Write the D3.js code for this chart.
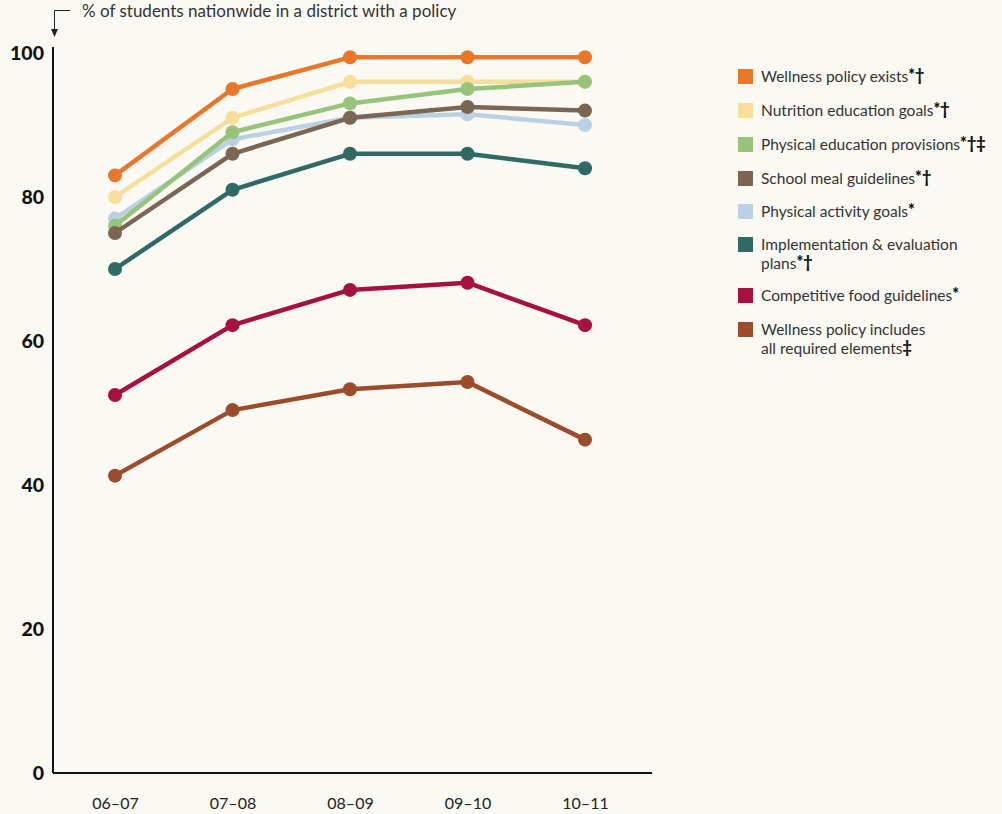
<!DOCTYPE html>
<html>
<head>
<meta charset="utf-8">
<script src="https://cdn.jsdelivr.net/npm/d3@7"></script>
<style>
  html, body { margin: 0; padding: 0; background: #FBF9F4; }
  svg { display: block; }
</style>
</head>
<body>
<svg id="chart" width="1002" height="814"></svg>
<script>
// School years on the x axis
const years = ["06\u201307", "07\u201308", "08\u201309", "09\u201310", "10\u201311"];
const yTicks = [0, 20, 40, 60, 80, 100];

// Percent of students in a district with each policy element
const wellnessExists      = [83, 95, 99.4, 99.4, 99.4];
const nutritionEducation  = [80, 91, 96, 96, 96];
const physicalEducation   = [76, 89, 93, 95, 96];
const schoolMeal          = [75, 86, 91, 92.5, 92];
const physicalActivity    = [77, 88, 91, 91.5, 90];
const implementation      = [70, 81, 86, 86, 84];
const competitiveFood     = [52.5, 62.2, 67.1, 68.1, 62.2];
const allRequired         = [41.3, 50.4, 53.3, 54.3, 46.3];

const series = [
  { name: "Wellness policy exists", mark: "*\u2020", values: wellnessExists, color: "#E8772A" },
  { name: "Nutrition education goals", mark: "*\u2020", values: nutritionEducation, color: "#F7DE9B" },
  { name: "Physical education provisions", mark: "*\u2020\u2021", values: physicalEducation, color: "#97C47A" },
  { name: "School meal guidelines", mark: "*\u2020", values: schoolMeal, color: "#7A6653" },
  { name: "Physical activity goals", mark: "*", values: physicalActivity, color: "#BAD0E3" },
  { name: ["Implementation & evaluation", "plans"], mark: "*\u2020", values: implementation, color: "#2F6A65" },
  { name: "Competitive food guidelines", mark: "*", values: competitiveFood, color: "#A61240" },
  { name: ["Wellness policy includes", "all required elements"], mark: "\u2021", values: allRequired, color: "#9B4C2B" }
];

// Stacking order of the lines, bottom first
const drawOrder = [7, 6, 5, 4, 1, 2, 3, 0];

const svg = d3.select("#chart");
const plotLeft = 53, plotRight = 652, plotTop = 53, plotBottom = 773;

const x = d3.scalePoint().domain(years).range([115, 585]);
const y = d3.scaleLinear().domain([0, 100]).range([plotBottom, plotTop]);

const font = "Lato, 'Open Sans', sans-serif";

// Axes
svg.append("line").attr("x1", plotLeft).attr("x2", plotLeft).attr("y1", 47).attr("y2", plotBottom)
  .attr("stroke", "#111").attr("stroke-width", 2);
svg.append("line").attr("x1", plotLeft).attr("x2", plotRight).attr("y1", plotBottom).attr("y2", plotBottom)
  .attr("stroke", "#111").attr("stroke-width", 2);

const yAxis = d3.axisLeft(y).tickValues(yTicks).tickSize(0).tickPadding(0);
const yg = svg.append("g").attr("transform", `translate(${plotLeft - 9},0)`).call(yAxis);
yg.select(".domain").remove();
yg.selectAll("text")
  .attr("font-family", font).attr("font-weight", 900).attr("font-size", 19.5)
  .attr("fill", "#111").attr("dy", "0.35em");

const xAxis = d3.axisBottom(x).tickSize(0).tickPadding(0);
const xg = svg.append("g").attr("transform", `translate(0,${plotBottom + 30})`).call(xAxis);
xg.select(".domain").remove();
xg.selectAll("text")
  .attr("font-family", font).attr("font-size", 16).attr("fill", "#222").attr("dy", "0.35em");

// Axis caption with bent arrow
svg.append("path").attr("d", "M70,10.5 H54.5 V30").attr("fill", "none")
  .attr("stroke", "#222").attr("stroke-width", 1);
svg.append("path").attr("d", "M51,29 L58,29 L54.5,37 Z").attr("fill", "#222");
svg.append("text").attr("x", 82).attr("y", 17).attr("font-family", font)
  .attr("font-size", 17).attr("fill", "#333")
  .text("% of students nationwide in a district with a policy");

// Lines and points
const line = d3.line().x((d, i) => x(years[i])).y(d => y(d));
const g = svg.append("g");
drawOrder.forEach(k => {
  const s = series[k];
  const sg = g.append("g");
  sg.append("path").datum(s.values).attr("d", line)
    .attr("fill", "none").attr("stroke", s.color).attr("stroke-width", 4.5)
    .attr("stroke-linejoin", "round");
  sg.selectAll("circle").data(s.values).join("circle")
    .attr("cx", (d, i) => x(years[i])).attr("cy", d => y(d)).attr("r", 7)
    .attr("fill", s.color);
});

// Legend
const legendRows = [77, 111, 145, 179, 212, 245, 296, 330];
const lg = svg.append("g");
series.forEach((s, i) => {
  const ry = legendRows[i];
  lg.append("rect").attr("x", 738).attr("y", ry - 8).attr("width", 15).attr("height", 15)
    .attr("fill", s.color);
  const lines = Array.isArray(s.name) ? s.name : [s.name];
  lines.forEach((t, j) => {
    const txt = lg.append("text").attr("x", 761).attr("y", ry + 5 + j * 19)
      .attr("font-family", font).attr("font-size", 15.5).attr("fill", "#333");
    txt.append("tspan").text(t);
    if (j === lines.length - 1) {
      txt.append("tspan").attr("font-weight", 900).attr("fill", "#111")
        .attr("font-size", 16).attr("dy", -1).text(s.mark);
    }
  });
});
</script>
</body>
</html>
